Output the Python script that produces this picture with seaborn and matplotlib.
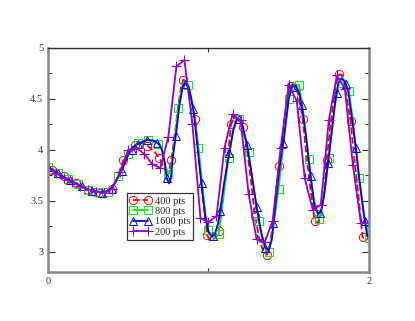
import numpy as np
import matplotlib
matplotlib.use('Agg')
import matplotlib.pyplot as plt
import seaborn as sns
from matplotlib.ticker import MultipleLocator

sns.set_style('ticks')
plt.rcParams['font.family'] = ['Liberation Serif', 'DejaVu Serif']

# 400 pts (red dashed, circles)
red_x = [0.00, 0.023, 0.06, 0.098, 0.135, 0.172, 0.21, 0.247, 0.285, 0.321, 0.36, 0.396, 0.43, 0.47, 0.51, 0.545,
         0.58, 0.619, 0.66, 0.694, 0.72, 0.74, 0.755, 0.768, 0.79, 0.81, 0.83, 0.843, 0.86, 0.88, 0.90, 0.917,
         0.94, 0.965, 0.992, 1.01, 1.03, 1.05, 1.066, 1.09, 1.115, 1.141, 1.16, 1.18, 1.215, 1.24, 1.265, 1.29,
         1.32, 1.345, 1.364, 1.385, 1.41, 1.439, 1.47, 1.50, 1.513, 1.535, 1.56, 1.588, 1.61, 1.635, 1.662, 1.68,
         1.70, 1.72, 1.737, 1.76, 1.79, 1.811, 1.83, 1.85, 1.886, 1.91, 1.935, 1.96, 1.99]
red_y = [3.82, 3.80, 3.77, 3.74, 3.70, 3.67, 3.64, 3.61, 3.59, 3.58, 3.58, 3.62, 3.72, 3.90, 4.00, 4.05,
         4.07, 4.04, 3.99, 3.92, 3.83, 3.78, 3.80, 3.90, 4.15, 4.42, 4.62, 4.69, 4.67, 4.57, 4.45, 4.30,
         3.95, 3.52, 3.16, 3.11, 3.12, 3.15, 3.20, 3.50, 3.85, 4.25, 4.32, 4.30, 4.22, 4.00, 3.70, 3.35,
         3.10, 2.99, 2.97, 3.08, 3.40, 3.84, 4.25, 4.57, 4.63, 4.64, 4.54, 4.30, 3.95, 3.62, 3.30, 3.28,
         3.36, 3.58, 3.90, 4.25, 4.60, 4.74, 4.74, 4.62, 4.28, 3.90, 3.55, 3.14, 3.12]
red_mx = [0.023, 0.098, 0.172, 0.247, 0.321, 0.396, 0.470, 0.545, 0.619, 0.694, 0.768, 0.843, 0.917, 0.992,
          1.066, 1.141, 1.215, 1.290, 1.364, 1.439, 1.513, 1.588, 1.662, 1.737, 1.811, 1.886, 1.960]
red_my = [3.80, 3.74, 3.67, 3.61, 3.58, 3.62, 3.90, 4.05, 4.04, 3.92, 3.90, 4.69, 4.30, 3.16,
          3.20, 4.25, 4.22, 3.35, 2.97, 3.84, 4.63, 4.30, 3.30, 3.90, 4.74, 4.28, 3.14]

# 800 pts (green, squares)
green_x = [0.00, 0.0625, 0.125, 0.1875, 0.25, 0.3125, 0.375, 0.41, 0.4375, 0.47, 0.50, 0.53, 0.5625, 0.625,
           0.6875, 0.71, 0.73, 0.75, 0.765, 0.78, 0.795, 0.8125, 0.83, 0.85, 0.875, 0.895, 0.915, 0.9375,
           0.96, 0.98, 1.00, 1.03, 1.0625, 1.08, 1.10, 1.125, 1.15, 1.17, 1.1875, 1.21, 1.25, 1.28, 1.3125,
           1.34, 1.36, 1.375, 1.40, 1.4375, 1.47, 1.50, 1.53, 1.5625, 1.58, 1.60, 1.625, 1.65, 1.6875, 1.70,
           1.72, 1.75, 1.78, 1.8125, 1.83, 1.85, 1.875, 1.90, 1.9375, 1.97, 2.00]
green_y = [3.83, 3.77, 3.71, 3.66, 3.61, 3.59, 3.59, 3.64, 3.74, 3.86, 3.96, 4.03, 4.07, 4.10,
           4.06, 4.00, 3.85, 3.76, 3.80, 3.98, 4.18, 4.41, 4.58, 4.67, 4.64, 4.50, 4.30, 4.02,
           3.68, 3.38, 3.21, 3.13, 3.17, 3.38, 3.62, 3.92, 4.15, 4.28, 4.30, 4.24, 3.98, 3.65, 3.30,
           3.08, 3.00, 3.00, 3.20, 3.62, 4.10, 4.50, 4.64, 4.64, 4.50, 4.25, 3.91, 3.58, 3.32, 3.36,
           3.55, 3.92, 4.35, 4.66, 4.71, 4.68, 4.58, 4.30, 3.72, 3.35, 3.13]
green_mx = [0.0, 0.0625, 0.125, 0.1875, 0.25, 0.3125, 0.375, 0.4375, 0.5, 0.5625, 0.625, 0.6875, 0.75,
            0.8125, 0.875, 0.9375, 1.0, 1.0625, 1.125, 1.1875, 1.25, 1.3125, 1.375, 1.4375, 1.5, 1.5625,
            1.625, 1.6875, 1.75, 1.8125, 1.875, 1.9375, 2.0]
green_my = [3.83, 3.77, 3.71, 3.66, 3.61, 3.59, 3.59, 3.74, 3.96, 4.07, 4.10, 4.06, 3.76,
            4.41, 4.64, 4.02, 3.21, 3.17, 3.92, 4.30, 3.98, 3.30, 3.00, 3.62, 4.50, 4.64,
            3.91, 3.32, 3.92, 4.66, 4.58, 3.72, 3.13]

# 1600 pts (blue, triangles)
blue_x = [0.00, 0.05, 0.10, 0.15, 0.20, 0.25, 0.30, 0.35, 0.38, 0.42, 0.46, 0.50, 0.54, 0.58, 0.62, 0.66,
          0.69, 0.71, 0.725, 0.74, 0.755, 0.765, 0.78, 0.80, 0.82, 0.84, 0.855, 0.875, 0.89, 0.91, 0.93,
          0.955, 0.98, 1.00, 1.02, 1.04, 1.06, 1.08, 1.10, 1.13, 1.155, 1.175, 1.19, 1.21, 1.24, 1.27, 1.30,
          1.33, 1.355, 1.375, 1.395, 1.42, 1.445, 1.47, 1.50, 1.52, 1.545, 1.565, 1.585, 1.61, 1.635, 1.66,
          1.685, 1.70, 1.72, 1.745, 1.77, 1.79, 1.81, 1.83, 1.85, 1.87, 1.895, 1.92, 1.945, 1.97, 1.99]
blue_y = [3.83, 3.78, 3.73, 3.69, 3.65, 3.61, 3.59, 3.58, 3.60, 3.68, 3.80, 3.95, 4.04, 4.07, 4.10, 4.09,
          4.06, 4.00, 3.90, 3.72, 3.67, 3.72, 3.95, 4.18, 4.45, 4.62, 4.65, 4.62, 4.52, 4.35, 4.05,
          3.68, 3.35, 3.19, 3.15, 3.17, 3.28, 3.48, 3.70, 3.97, 4.20, 4.29, 4.30, 4.25, 4.05, 3.75, 3.44,
          3.18, 3.04, 3.01, 3.12, 3.50, 3.85, 4.12, 4.50, 4.62, 4.63, 4.56, 4.40, 4.10, 3.76, 3.45,
          3.37, 3.39, 3.55, 3.87, 4.20, 4.48, 4.66, 4.70, 4.67, 4.58, 4.30, 4.00, 3.65, 3.35, 3.15]
blue_mx = [0.00, 0.064, 0.137, 0.21, 0.272, 0.335, 0.40, 0.459, 0.521, 0.56, 0.615, 0.677, 0.74, 0.796,
           0.854, 0.906, 0.957, 1.03, 1.072, 1.13, 1.19, 1.238, 1.30, 1.352, 1.404, 1.466, 1.518, 1.58,
           1.637, 1.695, 1.746, 1.799, 1.857, 1.919, 1.975]
blue_my = [3.83, 3.77, 3.70, 3.64, 3.60, 3.58, 3.62, 3.79, 4.00, 4.06, 4.10, 4.07, 3.72, 4.14,
           4.65, 4.40, 3.67, 3.15, 3.40, 3.97, 4.30, 4.05, 3.44, 3.04, 3.28, 4.07, 4.62, 4.44,
           3.74, 3.38, 3.87, 4.56, 4.65, 4.02, 3.30]

# 200 pts (violet, plus)
violet_x = [0.00, 0.05, 0.10, 0.15, 0.20, 0.25, 0.30, 0.35, 0.40, 0.45, 0.50, 0.55, 0.60, 0.65, 0.70, 0.75,
            0.80, 0.85, 0.90, 0.95, 1.00, 1.05, 1.10, 1.15, 1.20, 1.25, 1.30, 1.35, 1.40, 1.45, 1.50, 1.55,
            1.60, 1.65, 1.70, 1.75, 1.80, 1.85, 1.90, 1.95, 2.00]
violet_y = [3.82, 3.77, 3.72, 3.68, 3.645, 3.61, 3.59, 3.58, 3.62, 3.78, 4.00, 4.02, 3.96, 3.86, 3.82, 4.13,
            4.82, 4.88, 4.25, 3.33, 3.29, 3.35, 4.02, 4.35, 4.29, 3.57, 3.12, 3.09, 3.30, 4.02, 4.64, 4.48,
            3.72, 3.41, 3.46, 4.29, 4.73, 4.60, 3.85, 3.28, 3.28]

fig, ax = plt.subplots(figsize=(4.15, 3.21), dpi=100)
fig.subplots_adjust(left=0.1157, right=0.889, bottom=0.1526, top=0.8505)

series = [
    ('400 pts', red_x, red_y, red_mx, red_my, '#ff0000', 'o', '--'),
    ('800 pts', green_x, green_y, green_mx, green_my, '#00f000', 's', '-'),
    ('1600 pts', blue_x, blue_y, blue_mx, blue_my, '#0000ff', '^', '-'),
    ('200 pts', violet_x, violet_y, violet_x, violet_y, '#9400d3', '+', '-'),
]

handles = []
for label, lx, ly, mx, my, col, mk, ls in series:
    sns.lineplot(x=lx, y=ly, ax=ax, color=col, linestyle=ls, linewidth=1.3,
                 estimator=None, sort=False)
    if mk == '+':
        ax.plot(mx, my, linestyle='none', marker=mk, markersize=7, color=col, markeredgewidth=0.8)
    else:
        ax.plot(mx, my, linestyle='none', marker=mk, markersize=6, markerfacecolor='none',
                markeredgecolor=col, markeredgewidth=0.7)
    h, = ax.plot([], [], color=col, linestyle=ls, linewidth=1.3, marker=mk,
                 markersize=6 if mk != '+' else 7,
                 markerfacecolor='none', markeredgecolor=col, markeredgewidth=0.7, label=label)
    handles.append(h)

ax.set_xlim(0, 2)
ax.set_ylim(2.8, 5.0)
ax.xaxis.set_major_locator(MultipleLocator(2))
ax.xaxis.set_minor_locator(MultipleLocator(1))
ax.yaxis.set_major_locator(MultipleLocator(0.5))
ax.yaxis.set_minor_locator(MultipleLocator(0.25))
ax.set_yticks([3, 3.5, 4, 4.5, 5])
ax.set_yticklabels(['3', '3.5', '4', '4.5', '5'])
ax.tick_params(which='both', direction='in', top=True, right=True, labelsize=7.5,
               colors='#333333', width=0.8)
ax.tick_params(which='major', length=5)
ax.tick_params(which='minor', length=3)

for side in ['left', 'bottom', 'right']:
    ax.spines[side].set_color('#888888')
    ax.spines[side].set_linewidth(1.8)
ax.spines['top'].set_color('#333333')
ax.spines['top'].set_linewidth(1.0)

leg = ax.legend(handles=handles, loc='lower left', bbox_to_anchor=(0.24, 0.135), numpoints=2,
                fontsize=7.5, handlelength=2.0, handletextpad=0.35, borderpad=0.3,
                labelspacing=0.1, fancybox=False, framealpha=1, edgecolor='#333333',
                borderaxespad=0.2)
leg.get_frame().set_linewidth(0.9)

plt.savefig('out.png', dpi=100)
